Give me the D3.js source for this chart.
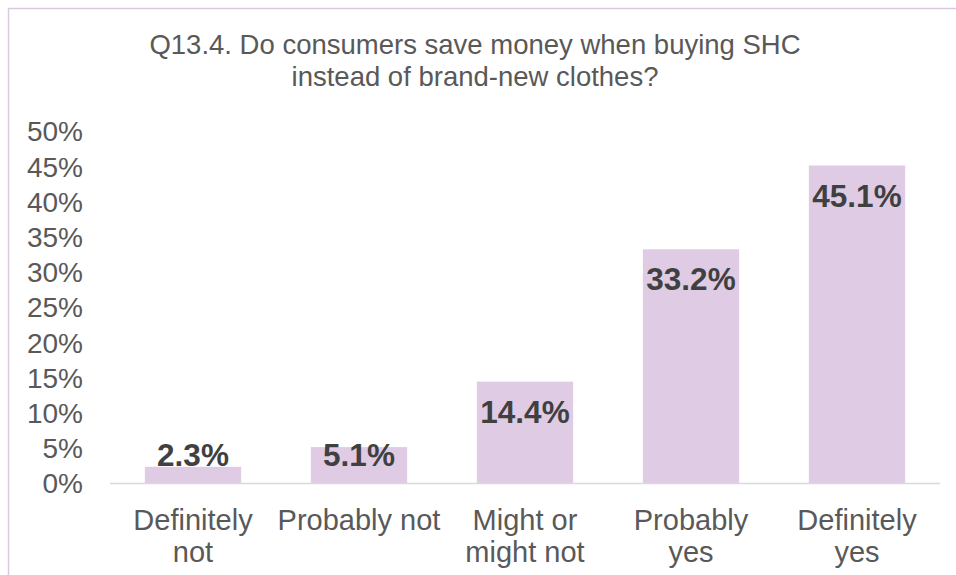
<!DOCTYPE html>
<html>
<head>
<meta charset="utf-8">
<script src="https://cdn.jsdelivr.net/npm/d3@7"></script>
<style>
  html, body { margin: 0; padding: 0; background: #fff; }
  svg { display: block; font-family: "Liberation Sans", Arial, sans-serif; }
</style>
</head>
<body>
<svg id="chart" width="956" height="575"></svg>
<script>
// Survey answers and their shares (%)
const categories = [["Definitely", "not"], ["Probably not"], ["Might or", "might not"], ["Probably", "yes"], ["Definitely", "yes"]];
const values = [2.3, 5.1, 14.4, 33.2, 45.1];
const yTicks = [0, 5, 10, 15, 20, 25, 30, 35, 40, 45, 50];
const titleLines = ["Q13.4. Do consumers save money when buying SHC", "instead of brand-new clothes?"];

const svg = d3.select("#chart");
const W = 956, H = 575;

// Chart-area frame
svg.append("rect")
  .attr("x", 8.5).attr("y", 8.5)
  .attr("width", W + 20).attr("height", H + 20)
  .attr("fill", "#fff").attr("stroke", "#d9c9e0").attr("stroke-width", 1.5);

const plot = { left: 110, right: 940, top: 131, bottom: 483 };

const x = d3.scaleBand()
  .domain(d3.range(values.length))
  .range([plot.left, plot.right])
  .paddingInner(0.42).paddingOuter(0.21);

const y = d3.scaleLinear().domain([0, 50]).range([plot.bottom, plot.top]);

// Title
svg.append("text")
  .attr("x", 475).attr("y", 54)
  .attr("text-anchor", "middle")
  .attr("font-size", 27.5).attr("fill", "#595959")
  .selectAll("tspan").data(titleLines).join("tspan")
  .attr("x", 475).attr("dy", (d, i) => i === 0 ? 0 : 32)
  .text(d => d);

// Y axis labels (no line, no ticks)
const yAxis = d3.axisLeft(y).tickValues(yTicks).tickFormat(d => d + "%").tickSize(0).tickPadding(0);
const gy = svg.append("g").attr("transform", `translate(83,0)`).call(yAxis);
gy.select(".domain").remove();
gy.selectAll("text")
  .attr("font-family", "'Liberation Sans', Arial, sans-serif")
  .attr("font-size", 28).attr("fill", "#595959").attr("dy", "0.35em");

// Bars
svg.append("g").selectAll("rect").data(values).join("rect")
  .attr("x", (d, i) => x(i))
  .attr("y", d => y(d))
  .attr("width", x.bandwidth())
  .attr("height", d => y(0) - y(d))
  .attr("fill", "#dfcce4");

// Baseline
svg.append("line")
  .attr("x1", plot.left).attr("x2", plot.right)
  .attr("y1", y(0) + 0.5).attr("y2", y(0) + 0.5)
  .attr("stroke", "#d9d9d9").attr("stroke-width", 1.5);

// Category labels
const gx = svg.append("g");
categories.forEach((lines, i) => {
  const t = gx.append("text")
    .attr("text-anchor", "middle")
    .attr("font-size", 29).attr("fill", "#595959");
  lines.forEach((ln, j) => {
    t.append("tspan")
      .attr("x", x(i) + x.bandwidth() / 2)
      .attr("y", 530 + j * 32)
      .text(ln);
  });
});

// Value labels, inside the top of each bar (kept above the axis for short bars)
svg.append("g").selectAll("text").data(values).join("text")
  .attr("x", (d, i) => x(i) + x.bandwidth() / 2)
  .attr("y", d => Math.min(y(d) + 30, 455))
  .attr("dy", "0.35em")
  .attr("text-anchor", "middle")
  .attr("font-size", 31.5).attr("font-weight", "bold").attr("fill", "#404040")
  .text(d => d.toFixed(1) + "%");
</script>
</body>
</html>
